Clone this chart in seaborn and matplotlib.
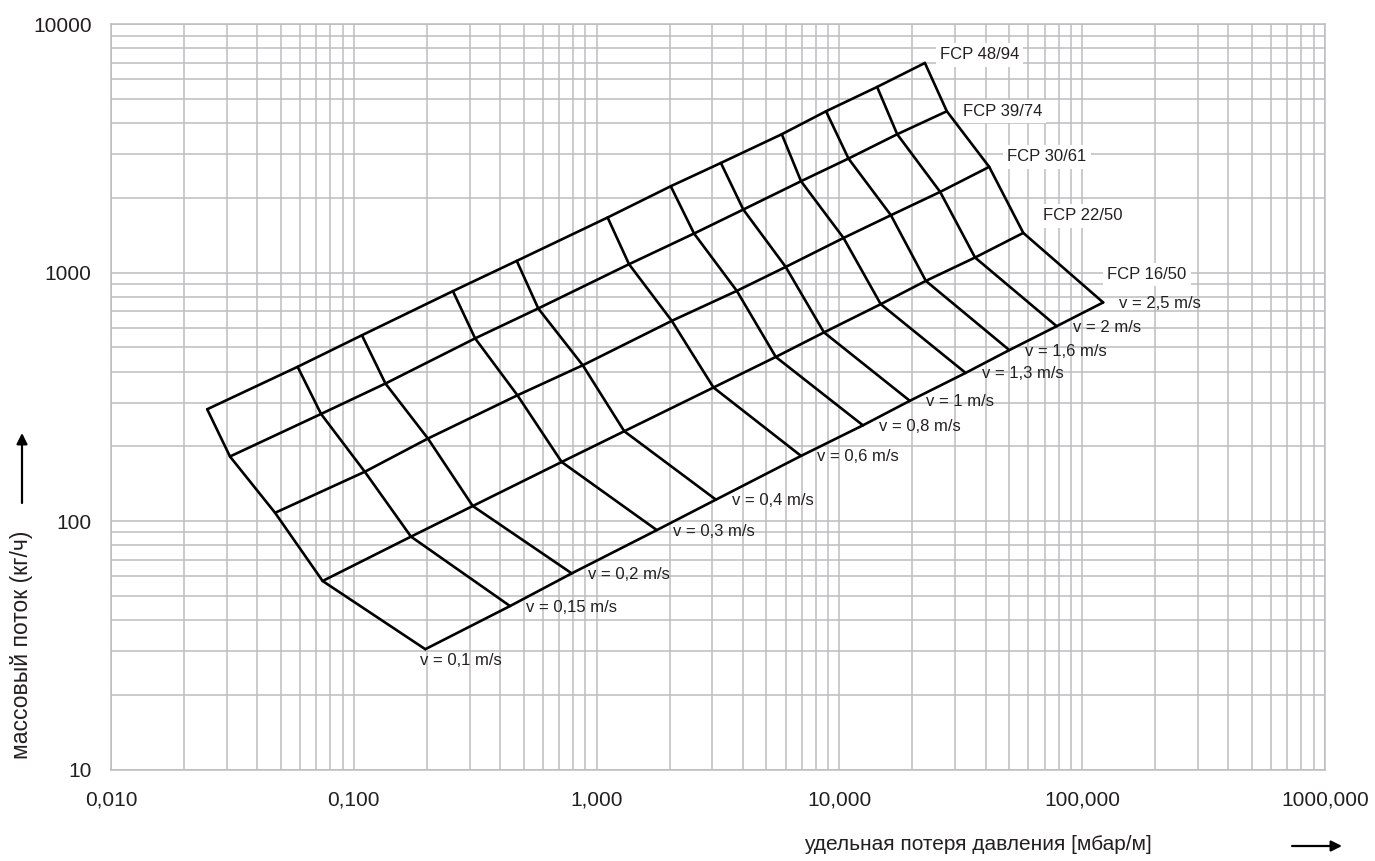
import matplotlib
matplotlib.use("Agg")
import matplotlib.pyplot as plt
from matplotlib.ticker import FixedLocator, FixedFormatter, LogLocator, NullFormatter
import seaborn as sns
import pandas as pd

# ---------------- data ----------------
velocities = [0.1, 0.15, 0.2, 0.3, 0.4, 0.6, 0.8, 1.0, 1.3, 1.6, 2.0, 2.5]
velocity_labels = ["v = 0,1 m/s", "v = 0,15 m/s", "v = 0,2 m/s", "v = 0,3 m/s",
                   "v = 0,4 m/s", "v = 0,6 m/s", "v = 0,8 m/s", "v = 1 m/s",
                   "v = 1,3 m/s", "v = 1,6 m/s", "v = 2 m/s", "v = 2,5 m/s"]

pipes = ["FCP 48/94", "FCP 39/74", "FCP 30/61", "FCP 22/50", "FCP 16/50"]

dp_fcp48 = [0.0249, 0.0587, 0.108, 0.256, 0.469, 1.11, 2.02, 3.25, 5.79, 8.81, 14.3, 22.5]
m_fcp48 = [282, 418, 560, 843, 1116, 1668, 2229, 2766, 3609, 4466, 5595, 6987]

dp_fcp39 = [0.0309, 0.0733, 0.135, 0.316, 0.575, 1.36, 2.52, 4.02, 6.95, 10.9, 17.3, 27.7]
m_fcp39 = [182, 270, 358, 544, 718, 1082, 1438, 1796, 2335, 2881, 3609, 4466]

dp_fcp30 = [0.0474, 0.111, 0.202, 0.472, 0.877, 2.04, 3.78, 6.01, 10.4, 16.3, 26.0, 41.4]
m_fcp30 = [108, 158, 215, 321, 424, 640, 845, 1055, 1380, 1704, 2115, 2667]

dp_fcp22 = [0.0744, 0.172, 0.309, 0.718, 1.30, 3.03, 5.47, 8.64, 14.8, 22.7, 36.2, 57.2]
m_fcp22 = [57.4, 86.6, 115, 173, 230, 345, 458, 575, 747, 927, 1151, 1446]

dp_fcp16 = [0.197, 0.440, 0.790, 1.77, 3.10, 6.95, 12.5, 19.5, 33.1, 50.1, 78.5, 122]
m_fcp16 = [30.5, 45.5, 61.6, 92.0, 122, 183, 243, 305, 395, 488, 609, 759]

x_ticks = [0.01, 0.1, 1, 10, 100, 1000]
x_tick_labels = ["0,010", "0,100", "1,000", "10,000", "100,000", "1000,000"]
y_ticks = [10, 100, 1000, 10000]
y_tick_labels = ["10", "100", "1000", "10000"]

x_label = "удельная потеря давления [мбар/м]"
y_label = "массовый поток (кг/ч)"

# ---------------- build table ----------------
dp_all = [dp_fcp48, dp_fcp39, dp_fcp30, dp_fcp22, dp_fcp16]
m_all = [m_fcp48, m_fcp39, m_fcp30, m_fcp22, m_fcp16]
rows = []
for p, dps, ms in zip(pipes, dp_all, m_all):
    for v, d, m in zip(velocities, dps, ms):
        rows.append({"pipe": p, "v": v, "dp": d, "m": m})
df = pd.DataFrame(rows)

# ---------------- style ----------------
sns.set_style("white")
plt.rcParams["font.family"] = ["Liberation Sans", "DejaVu Sans"]
TXT = "#231f20"
GRID = "#bdbdc1"

W, H = 1375, 861
fig = plt.figure(figsize=(W / 100, H / 100), dpi=100)
ax_left, ax_right, ax_top, ax_bottom = 111, 1325, 24.3, 769.5
ax = fig.add_axes([ax_left / W, (H - ax_bottom) / H, (ax_right - ax_left) / W, (ax_bottom - ax_top) / H])
ax.set_xscale("log")
ax.set_yscale("log")

# pipe lines (one line per pipe)
sns.lineplot(data=df, x="dp", y="m", units="pipe", estimator=None, sort=False,
             color="black", lw=1.9, ax=ax, legend=False)
# velocity lines (one line per velocity)
sns.lineplot(data=df, x="dp", y="m", units="v", estimator=None, sort=False,
             color="black", lw=1.9, ax=ax, legend=False)

ax.set_xlim(0.01, 1000)
ax.set_ylim(10, 10000)

ax.xaxis.set_major_locator(FixedLocator(x_ticks))
ax.xaxis.set_major_formatter(FixedFormatter(x_tick_labels))
ax.yaxis.set_major_locator(FixedLocator(y_ticks))
ax.yaxis.set_major_formatter(FixedFormatter(y_tick_labels))
ax.xaxis.set_minor_locator(LogLocator(base=10, subs=range(2, 10), numticks=50))
ax.yaxis.set_minor_locator(LogLocator(base=10, subs=range(2, 10), numticks=50))
ax.xaxis.set_minor_formatter(NullFormatter())
ax.yaxis.set_minor_formatter(NullFormatter())
ax.tick_params(which="both", length=0)
ax.tick_params(axis="x", which="major", pad=15, labelsize=15, labelcolor=TXT)
ax.tick_params(axis="y", which="major", pad=14, labelsize=15, labelcolor=TXT)

ax.grid(True, which="both", color=GRID, lw=1.1)
ax.set_axisbelow(True)
for s in ax.spines.values():
    s.set_color(GRID)
    s.set_linewidth(1.1)
ax.set_xlabel("")
ax.set_ylabel("")

# ---------------- annotations ----------------
px = 0.72  # points per pixel at 100 dpi
pipe_offsets = [(15, -8), (16, 0), (18, -10), (20, -17), (4, -28)]
for p, dps, ms, (dx, dy) in zip(pipes, dp_all, m_all, pipe_offsets):
    ax.annotate(p, xy=(dps[-1], ms[-1]), xytext=(dx * px, -dy * px),
                textcoords="offset points", ha="left", va="center",
                fontsize=12, color=TXT, zorder=5,
                bbox=dict(boxstyle="square,pad=0.25", fc="white", ec="none"))

for i, (v, lab) in enumerate(zip(velocities, velocity_labels)):
    dx, dy = (16, 1) if i > 0 else (-5, 11)
    ax.annotate(lab, xy=(dp_fcp16[i], m_fcp16[i]), xytext=(dx * px, -dy * px),
                textcoords="offset points", ha="left", va="center",
                fontsize=12, color=TXT, zorder=5)

# axis titles with arrows
fig.text(978 / W, 1 - 845 / H, x_label, ha="center", va="center", fontsize=15, color=TXT)
fig.text(22 / W, 1 - 645 / H, y_label, ha="center", va="center", rotation=90,
         fontsize=16.5, color=TXT)
arrow = dict(arrowstyle="-|>", color="black", lw=1.6, mutation_scale=16, shrinkA=0, shrinkB=0)
fig.add_artist(matplotlib.patches.FancyArrowPatch((1292 / W, 1 - 846 / H), (1342 / W, 1 - 846 / H),
               transform=fig.transFigure, **arrow))
fig.add_artist(matplotlib.patches.FancyArrowPatch((22 / W, 1 - 503 / H), (22 / W, 1 - 433 / H),
               transform=fig.transFigure, **arrow))

fig.savefig("out.png", dpi=100)
